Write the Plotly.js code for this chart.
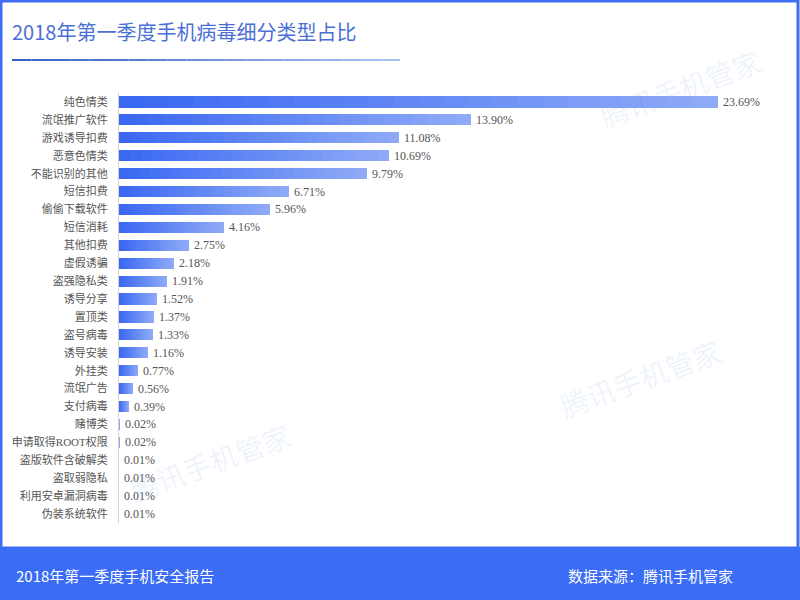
<!DOCTYPE html>
<html>
<head>
<meta charset="utf-8">
<script src="https://cdn.plot.ly/plotly-3.0.1.min.js"></script>
<style>html,body{margin:0;padding:0;background:#fff;}#chart{width:800px;height:600px;}</style>
</head>
<body>
<div id="chart"></div>
<script>
const categories = ['纯色情类','流氓推广软件','游戏诱导扣费','恶意色情类','不能识别的其他','短信扣费','偷偷下载软件','短信消耗','其他扣费','虚假诱骗','盗强隐私类','诱导分享','置顶类','盗号病毒','诱导安装','外挂类','流氓广告','支付病毒','赌博类','申请取得ROOT权限','盗版软件含破解类','盗取弱隐私','利用安卓漏洞病毒','伪装系统软件'];
const values = [23.69,13.90,11.08,10.69,9.79,6.71,5.96,4.16,2.75,2.18,1.91,1.52,1.37,1.33,1.16,0.77,0.56,0.39,0.02,0.02,0.01,0.01,0.01,0.01];
const valueLabels = ['23.69%','13.90%','11.08%','10.69%','9.79%','6.71%','5.96%','4.16%','2.75%','2.18%','1.91%','1.52%','1.37%','1.33%','1.16%','0.77%','0.56%','0.39%','0.02%','0.02%','0.01%','0.01%','0.01%','0.01%'];
const titleText = '2018年第一季度手机病毒细分类型占比';
const footerLeft = '2018年第一季度手机安全报告';
const footerRight = '数据来源：腾讯手机管家';
const watermark = '腾讯手机管家';

// plot area geometry (pixels)
const L = 119, R = 780, T = 93, B = 523;
const PW = R - L, PH = B - T;
const px = x => (x - L) / PW;
const py = y => (B - y) / PH;

// gradient bars built as stacked slices of each value
const N = 24;
const c0 = [58, 104, 242], c1 = [142, 170, 247];
const mix = t => 'rgb(' + c0.map((c, i) => Math.round(c + (c1[i] - c) * t)).join(',') + ')';
const traces = [];
for (let k = 0; k < N; k++) {
  traces.push({
    type: 'bar', orientation: 'h',
    y: categories,
    x: values.map(v => v / N),
    marker: {color: mix(k / (N - 1)), line: {width: 0}},
    hoverinfo: 'skip', showlegend: false
  });
}

const annotations = categories.map((c, i) => ({
  x: values[i], y: c, xref: 'x', yref: 'y', text: valueLabels[i],
  xanchor: 'left', yanchor: 'middle', xshift: 3, showarrow: false,
  font: {family: 'Liberation Serif, Noto Sans CJK SC', size: 12, color: '#555'}
}));

// footer texts
annotations.push({xref: 'paper', yref: 'paper', x: px(14), y: py(575), xanchor: 'left', yanchor: 'middle',
  text: footerLeft, showarrow: false, font: {family: 'Noto Sans CJK SC', size: 15, color: '#fff'}});
annotations.push({xref: 'paper', yref: 'paper', x: px(566), y: py(575), xanchor: 'left', yanchor: 'middle',
  text: footerRight, showarrow: false, font: {family: 'Noto Sans CJK SC', size: 15, color: '#fff'}});

// watermarks
[[680, 88], [640, 378], [210, 462]].forEach(p => {
  annotations.push({xref: 'paper', yref: 'paper', x: px(p[0]), y: py(p[1]), xanchor: 'center', yanchor: 'middle',
    text: watermark, showarrow: false, textangle: -20,
    font: {family: 'Noto Sans CJK SC', size: 28, color: 'rgba(120,160,225,0.13)'}});
});

const shapes = [];
// outer frame
shapes.push({type: 'rect', xref: 'paper', yref: 'paper', x0: px(1), x1: px(798), y0: py(1), y1: py(548),
  line: {color: '#3f6ef2', width: 3}, fillcolor: 'rgba(0,0,0,0)', layer: 'below'});
// footer band
shapes.push({type: 'rect', xref: 'paper', yref: 'paper', x0: px(0), x1: px(800), y0: py(547), y1: py(600),
  line: {width: 0}, fillcolor: '#3a6cf6', layer: 'above'});
// title underline gradient
const U = 20, ux0 = 12, ux1 = 400;
const u0 = [52, 96, 200], u1 = [170, 195, 240];
for (let k = 0; k < U; k++) {
  const t = k / (U - 1);
  const col = 'rgb(' + u0.map((c, i) => Math.round(c + (u1[i] - c) * t)).join(',') + ')';
  shapes.push({type: 'line', xref: 'paper', yref: 'paper',
    x0: px(ux0 + (ux1 - ux0) * k / U), x1: px(ux0 + (ux1 - ux0) * (k + 1) / U),
    y0: py(60), y1: py(60), line: {color: col, width: 2}});
}

const layout = {
  width: 800, height: 600,
  margin: {l: L, r: 800 - R, t: T, b: 600 - B},
  paper_bgcolor: '#fff', plot_bgcolor: 'rgba(0,0,0,0)',
  barmode: 'stack', bargap: 0.38,
  title: {text: titleText, xref: 'container', yref: 'container', x: 12 / 800, xanchor: 'left',
    y: 1 - 33 / 600, yanchor: 'middle',
    font: {family: 'Noto Sans CJK SC', size: 20, color: '#4a6fd6'}},
  xaxis: {range: [0, PW / 25.29], visible: false, fixedrange: true},
  yaxis: {type: 'category', autorange: 'reversed', showline: true, linecolor: '#d4d4d4', linewidth: 1,
    showgrid: false, zeroline: false, ticks: '', ticklabelstandoff: 8,
    tickfont: {family: 'Liberation Serif, Noto Sans CJK SC', size: 11, color: '#555'}, fixedrange: true},
  annotations: annotations,
  shapes: shapes,
  showlegend: false
};

Plotly.newPlot('chart', traces, layout, {displayModeBar: false, staticPlot: true});
</script>
</body>
</html>
